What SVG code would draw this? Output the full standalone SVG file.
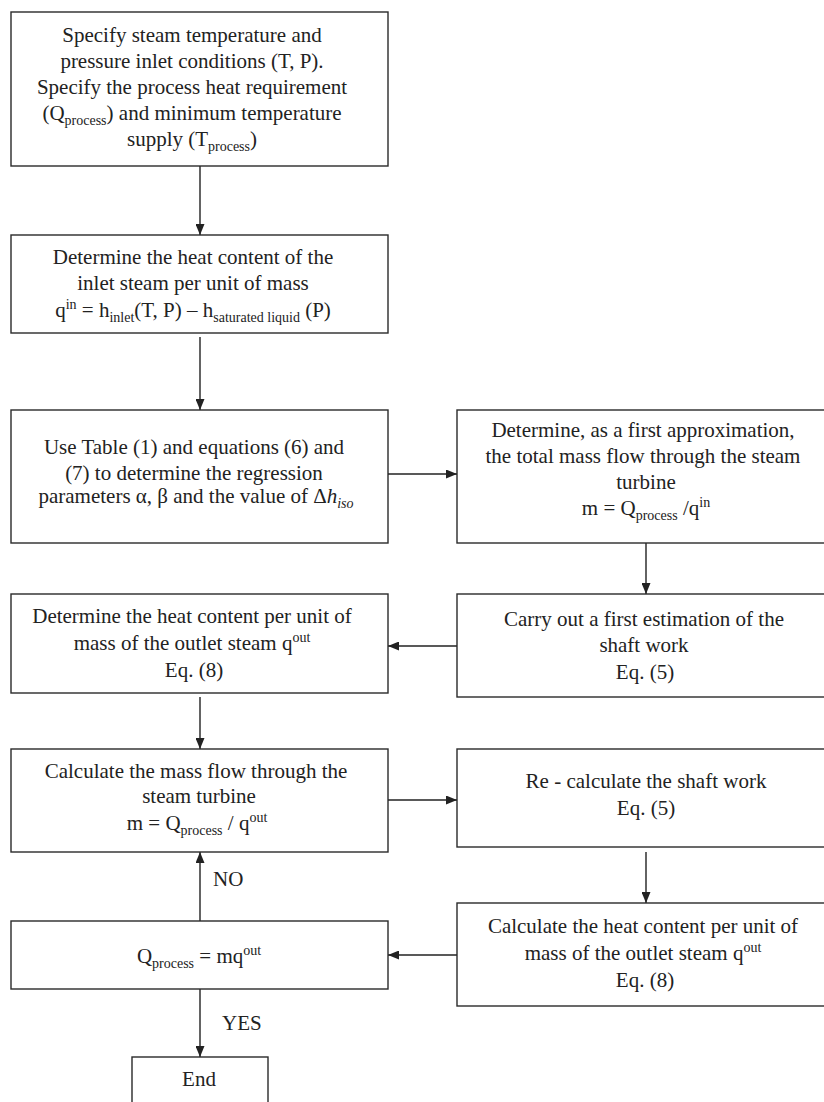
<svg xmlns="http://www.w3.org/2000/svg" width="824" height="1102" viewBox="0 0 824 1102">
<style>
.box{fill:#fff;stroke:#2a2a2a;stroke-width:1.4}
.t{font-family:"Liberation Serif","Times New Roman",serif;font-size:21px;fill:#222;text-anchor:middle}
.s{font-size:14px}
.c{stroke:#222;stroke-width:1.4;fill:none;marker-end:url(#ah)}
</style>
<defs>
<marker id="ah" markerUnits="userSpaceOnUse" markerWidth="11" markerHeight="9" refX="11" refY="4.5" orient="auto">
<path d="M0,0 L11,4.5 L0,9 z" fill="#222"/>
</marker>
</defs>
<rect width="824" height="1102" fill="#fff"/>
<g id="connectors">
<line class="c" x1="200" y1="166" x2="200" y2="235"/>
<line class="c" x1="200" y1="337" x2="200" y2="410"/>
<line class="c" x1="388" y1="474" x2="457" y2="474"/>
<line class="c" x1="646" y1="543" x2="646" y2="594"/>
<line class="c" x1="457" y1="646" x2="388" y2="646"/>
<line class="c" x1="200" y1="697" x2="200" y2="749"/>
<line class="c" x1="388" y1="800" x2="457" y2="800"/>
<line class="c" x1="646" y1="852" x2="646" y2="903"/>
<line class="c" x1="457" y1="955" x2="388" y2="955"/>
<line class="c" x1="200" y1="921" x2="200" y2="852"/>
<line class="c" x1="200" y1="989" x2="200" y2="1057"/>
<text class="t" x="213" y="886" text-anchor="start" style="text-anchor:start">NO</text>
<text class="t" x="222" y="1030" style="text-anchor:start">YES</text>
</g>
<g id="n1">
<rect class="box" x="11" y="12" width="377" height="154"/>
<text class="t" x="192" y="42">Specify steam temperature and</text>
<text class="t" x="192" y="68">pressure inlet conditions (T, P).</text>
<text class="t" x="192" y="94">Specify the process heat requirement</text>
<text class="t" x="192" y="120">(Q<tspan class="s" dy="5">process</tspan><tspan dy="-5">) and minimum temperature</tspan></text>
<text class="t" x="192" y="146">supply (T<tspan class="s" dy="5">process</tspan><tspan dy="-5">)</tspan></text>
</g>
<g id="n2">
<rect class="box" x="11" y="235" width="377" height="98"/>
<text class="t" x="193" y="264">Determine the heat content of the</text>
<text class="t" x="193" y="290">inlet steam per unit of mass</text>
<text class="t" x="193" y="317">q<tspan class="s" dy="-8">in</tspan><tspan dy="8"> = h</tspan><tspan class="s" dy="5">inlet</tspan><tspan dy="-5">(T, P) – h</tspan><tspan class="s" dy="5">saturated liquid</tspan><tspan dy="-5"> (P)</tspan></text>
</g>
<g id="n3">
<rect class="box" x="11" y="410" width="377" height="133"/>
<text class="t" x="194" y="454">Use Table (1) and equations (6) and</text>
<text class="t" x="194" y="480">(7) to determine the regression</text>
<text class="t" x="196" y="503">parameters α, β and the value of Δ<tspan font-style="italic">h</tspan><tspan class="s" font-style="italic" dy="5">iso</tspan></text>
</g>
<g id="n4">
<rect class="box" x="457" y="410" width="380" height="133"/>
<text class="t" x="643" y="437">Determine, as a first approximation,</text>
<text class="t" x="643" y="463">the total mass flow through the steam</text>
<text class="t" x="646" y="489">turbine</text>
<text class="t" x="646" y="515">m = Q<tspan class="s" dy="5">process</tspan><tspan dy="-5"> /q</tspan><tspan class="s" dy="-8">in</tspan></text>
</g>
<g id="n5">
<rect class="box" x="457" y="594" width="380" height="103"/>
<text class="t" x="644" y="626">Carry out a first estimation of the</text>
<text class="t" x="644" y="652">shaft work</text>
<text class="t" x="645" y="679">Eq. (5)</text>
</g>
<g id="n6">
<rect class="box" x="11" y="594" width="377" height="99"/>
<text class="t" x="192" y="623">Determine the heat content per unit of</text>
<text class="t" x="192" y="650">mass of the outlet steam q<tspan class="s" dy="-8">out</tspan></text>
<text class="t" x="194" y="677">Eq. (8)</text>
</g>
<g id="n7">
<rect class="box" x="11" y="749" width="377" height="103"/>
<text class="t" x="196" y="778">Calculate the mass flow through the</text>
<text class="t" x="199" y="803">steam turbine</text>
<text class="t" x="197" y="830">m = Q<tspan class="s" dy="5">process</tspan><tspan dy="-5"> / q</tspan><tspan class="s" dy="-8">out</tspan></text>
</g>
<g id="n8">
<rect class="box" x="457" y="749" width="380" height="98"/>
<text class="t" x="646" y="788">Re - calculate the shaft work</text>
<text class="t" x="646" y="815">Eq. (5)</text>
</g>
<g id="n9">
<rect class="box" x="457" y="903" width="380" height="103"/>
<text class="t" x="643" y="933">Calculate the heat content per unit of</text>
<text class="t" x="643" y="960">mass of the outlet steam q<tspan class="s" dy="-8">out</tspan></text>
<text class="t" x="645" y="987">Eq. (8)</text>
</g>
<g id="n10">
<rect class="box" x="11" y="921" width="377" height="68"/>
<text class="t" x="199" y="963">Q<tspan class="s" dy="5">process</tspan><tspan dy="-5"> = mq</tspan><tspan class="s" dy="-8">out</tspan></text>
</g>
<g id="n11">
<rect class="box" x="132" y="1057" width="136" height="60"/>
<text class="t" x="199" y="1086">End</text>
</g>
</svg>
